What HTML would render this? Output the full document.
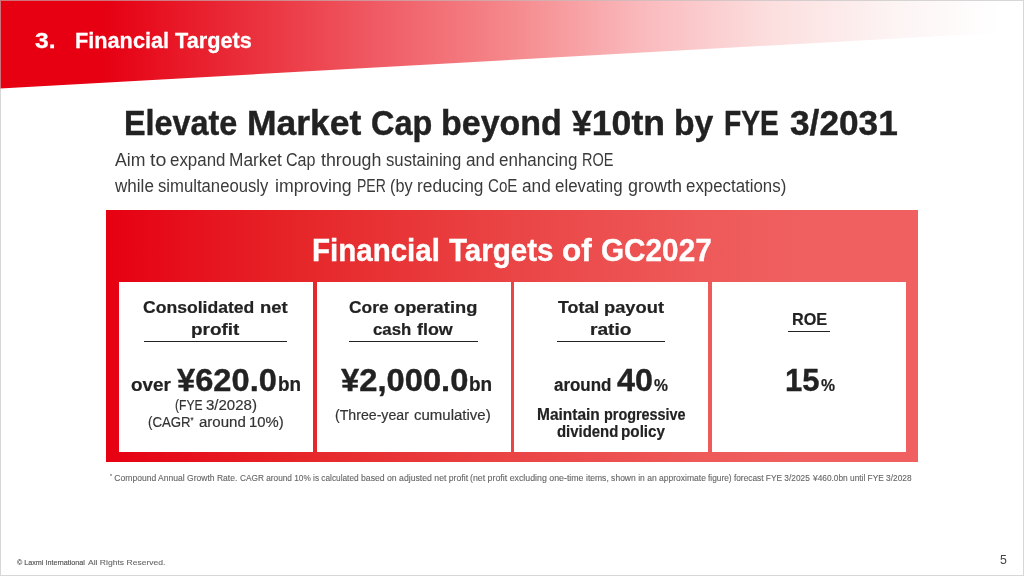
<!DOCTYPE html>
<html lang="en">
<head>
<meta charset="utf-8">
<title>3. Financial Targets</title>
<style>
html,body{margin:0;padding:0;}
body{width:1024px;height:576px;overflow:hidden;background:#fff;position:relative;font-family:"Liberation Sans", sans-serif;}
header,main,section,article,footer,h1,h2,h3,p{margin:0;padding:0;font-size:0;line-height:0;}
.band{position:absolute;left:0;top:0;width:1024px;height:90px;background:linear-gradient(90deg,#e60012 0,#e60012 105px,#ea323e 256px,#f05d66 384px,#f5898c 512px,#fab9bc 640px,#fcdede 768px,#fdf4f4 896px,#ffffff 1000px);clip-path:polygon(0 0,1024px 0,1024px 31.4px,0 88.4px);}
.box{position:absolute;left:106px;top:210px;width:812px;height:252.3px;background:linear-gradient(90deg,#e60012 0,#e62629 193px,#ea4344 393px,#ee5959 593px,#f06060 700px,#f06060 100%);}
.card{position:absolute;top:282.1px;height:169.5px;background:#fff;}
.ul{position:absolute;height:1.4px;background:#222;}
.t{position:absolute;display:block;white-space:pre;transform-origin:0 0;}
.sp{font-size:60%;vertical-align:0.5em;line-height:0}
.frame{position:absolute;left:0;top:0;width:1022px;height:574px;border:1px solid rgba(189,189,189,0.61);}
.f1{font-size:22px;line-height:26px;font-weight:700;color:#fff;-webkit-text-stroke:0.26px #fff;}
.f2{font-size:34.5px;line-height:41px;font-weight:700;color:#222;-webkit-text-stroke:0.41px #222;}
.f3{font-size:17.5px;line-height:21px;font-weight:400;color:#3a3a3a;}
.f4{font-size:31.3px;line-height:38px;font-weight:700;color:#fff;-webkit-text-stroke:0.38px #fff;}
.f5{font-size:17.3px;line-height:21px;font-weight:700;color:#222;-webkit-text-stroke:0.21px #222;}
.f6{font-size:17.6px;line-height:21px;font-weight:700;color:#222;-webkit-text-stroke:0.21px #222;}
.f7{font-size:30.5px;line-height:37px;font-weight:700;color:#222;-webkit-text-stroke:0.37px #222;}
.f8{font-size:19.5px;line-height:23px;font-weight:700;color:#222;-webkit-text-stroke:0.23px #222;}
.f9{font-size:14px;line-height:17px;font-weight:400;color:#333;-webkit-text-stroke:0.18px #333;}
.f10{font-size:16px;line-height:19px;font-weight:700;color:#222;-webkit-text-stroke:0.19px #222;}
.f11{font-size:16.5px;line-height:20px;font-weight:700;color:#222;-webkit-text-stroke:0.2px #222;}
.f12{font-size:9px;line-height:11px;font-weight:400;color:#666;-webkit-text-stroke:0.12px #666;}
.f13{font-size:8px;line-height:10px;font-weight:400;color:#505050;-webkit-text-stroke:0.14px #505050;}
.f14{font-size:8px;line-height:10px;font-weight:400;color:#666;-webkit-text-stroke:0.1px #666;}
.f15{font-size:13px;line-height:16px;font-weight:400;color:#444;}
</style>
</head>
<body>
<div class="band"></div>
<div class="box"></div>
<div class="card" style="left:118.5px;width:194.5px"></div>
<div class="card" style="left:316.5px;width:194px"></div>
<div class="card" style="left:514.4px;width:194px"></div>
<div class="card" style="left:712px;width:194.3px"></div>
<div class="ul" style="left:143.6px;width:143.8px;top:341px"></div>
<div class="ul" style="left:348.8px;width:129px;top:341px"></div>
<div class="ul" style="left:557px;width:108px;top:341px"></div>
<div class="ul" style="left:788.2px;width:42.2px;top:331.1px"></div>
<header>
<h2><span class="t f1" style="left:35.39px;top:28px;transform:scaleX(1.1193)">3. </span><span class="t f1" style="left:74.91px;top:28px;transform:scaleX(0.9867)">Financial Targets</span></h2>
</header>
<main>
<h1><span class="t f2" style="left:123.58px;top:103px;transform:scaleX(0.9371)">Elevate </span><span class="t f2" style="left:246.53px;top:103px;transform:scaleX(1.0288)">Market </span><span class="t f2" style="left:370.71px;top:103px;transform:scaleX(0.9393)">Cap </span><span class="t f2" style="left:440.98px;top:103px;transform:scaleX(0.9851)">beyond </span><span class="t f2" style="left:571.7px;top:103px;transform:scaleX(1.0324)">¥10tn </span><span class="t f2" style="left:673.5px;top:103px;transform:scaleX(0.9774)">by </span><span class="t f2" style="left:724.04px;top:103px;transform:scaleX(0.8160)">FYE </span><span class="t f2" style="left:789.9px;top:103px;transform:scaleX(1.0218)">3/2031</span></h1>
<p><span class="t f3" style="left:114.95px;top:150px;transform:scaleX(1.0083)">Aim </span><span class="t f3" style="left:149.98px;top:150px;transform:scaleX(1.1201)">to </span><span class="t f3" style="left:169.62px;top:150px;transform:scaleX(0.9657)">expand </span><span class="t f3" style="left:228.97px;top:150px;transform:scaleX(0.9897)">Market </span><span class="t f3" style="left:286.33px;top:150px;transform:scaleX(0.9189)">Cap </span><span class="t f3" style="left:320.71px;top:150px;transform:scaleX(1.0170)">through </span><span class="t f3" style="left:385.51px;top:150px;transform:scaleX(0.9540)">sustaining </span><span class="t f3" style="left:465.81px;top:150px;transform:scaleX(0.9854)">and </span><span class="t f3" style="left:498.81px;top:150px;transform:scaleX(0.9702)">enhancing </span><span class="t f3" style="left:582.3px;top:150px;transform:scaleX(0.8285)">ROE</span></p>
<p><span class="t f3" style="left:115.09px;top:176px;transform:scaleX(0.9745)">while </span><span class="t f3" style="left:158.36px;top:176px;transform:scaleX(0.9534)">simultaneously </span><span class="t f3" style="left:275.4px;top:176px;transform:scaleX(1.0108)">improving </span><span class="t f3" style="left:356.59px;top:176px;transform:scaleX(0.7994)">PER </span><span class="t f3" style="left:389.97px;top:176px;transform:scaleX(0.9276)">(by </span><span class="t f3" style="left:417.01px;top:176px;transform:scaleX(0.9893)">reducing </span><span class="t f3" style="left:488.24px;top:176px;transform:scaleX(0.8641)">CoE </span><span class="t f3" style="left:522.11px;top:176px;transform:scaleX(0.9854)">and </span><span class="t f3" style="left:555.12px;top:176px;transform:scaleX(0.9649)">elevating </span><span class="t f3" style="left:627.6px;top:176px;transform:scaleX(1.0264)">growth </span><span class="t f3" style="left:686.12px;top:176px;transform:scaleX(0.9633)">expectations)</span></p>
</main>
<section>
<h2><span class="t f4" style="left:311.81px;top:232px;transform:scaleX(0.9430)">Financial </span><span class="t f4" style="left:448.93px;top:232px;transform:scaleX(0.9430)">Targets </span><span class="t f4" style="left:562.32px;top:232px;transform:scaleX(1.0073)">of </span><span class="t f4" style="left:601.25px;top:232px;transform:scaleX(0.9497)">GC2027</span></h2>
</section>
<article>
<h3><span class="t f5" style="left:142.87px;top:297px;transform:scaleX(1.0168)">Consolidated </span><span class="t f5" style="left:259.77px;top:297px;transform:scaleX(1.0674)">net</span> <span class="t f5" style="left:191.34px;top:319px;transform:scaleX(1.0939)">profit</span></h3>
<p><span class="t f6" style="left:130.96px;top:375px;transform:scaleX(1.0726)">over</span> <span class="t f7" style="left:177.19px;top:362px;transform:scaleX(1.0705)">¥620.0</span><span class="t f8" style="left:277.59px;top:373px;transform:scaleX(0.9672)">bn</span></p>
<p><span class="t f9" style="left:174.56px;top:397px;transform:scaleX(0.8616)">(FYE </span><span class="t f9" style="left:206.24px;top:397px;transform:scaleX(1.0724)">3/2028)</span></p>
<p><span class="t f9" style="left:148.2px;top:414px;transform:scaleX(0.9441)">(CAGR<span class="sp">*</span> </span><span class="t f9" style="left:198.93px;top:414px;transform:scaleX(1.0740)">around </span><span class="t f9" style="left:248.88px;top:414px;transform:scaleX(1.0578)">10%)</span></p>
</article>
<article>
<h3><span class="t f5" style="left:348.98px;top:297px;transform:scaleX(1.0050)">Core </span><span class="t f5" style="left:394.4px;top:297px;transform:scaleX(1.0580)">operating</span> <span class="t f5" style="left:373.24px;top:319px;transform:scaleX(0.9703)">cash </span><span class="t f5" style="left:417.34px;top:319px;transform:scaleX(1.0338)">flow</span></h3>
<p><span class="t f7" style="left:340.79px;top:362px;transform:scaleX(1.0730)">¥2,000.0</span><span class="t f8" style="left:469.18px;top:373px;transform:scaleX(0.9718)">bn</span></p>
<p><span class="t f9" style="left:334.56px;top:407px;transform:scaleX(1.0099)">(Three-year </span><span class="t f9" style="left:414.13px;top:407px;transform:scaleX(1.0704)">cumulative)</span></p>
</article>
<article>
<h3><span class="t f5" style="left:558.47px;top:297px;transform:scaleX(1.0331)">Total </span><span class="t f5" style="left:604.38px;top:297px;transform:scaleX(1.0596)">payout</span> <span class="t f5" style="left:590.03px;top:319px;transform:scaleX(1.1064)">ratio</span></h3>
<p><span class="t f6" style="left:554.14px;top:375px;transform:scaleX(0.9627)">around</span> <span class="t f7" style="left:617.08px;top:362px;transform:scaleX(1.0592)">40</span><span class="t f5" style="left:653.9px;top:375px;transform:scaleX(0.9070)">%</span></p>
<p><span class="t f10" style="left:536.96px;top:405px;transform:scaleX(0.9676)">Maintain </span><span class="t f10" style="left:604.02px;top:405px;transform:scaleX(0.8998)">progressive</span> <span class="t f10" style="left:557.08px;top:422px;transform:scaleX(0.9317)">dividend </span><span class="t f10" style="left:620.76px;top:422px;transform:scaleX(0.9530)">policy</span></p>
</article>
<article>
<h3><span class="t f11" style="left:791.62px;top:309px;transform:scaleX(0.9828)">ROE</span></h3>
<p><span class="t f7" style="left:784.6px;top:362px;transform:scaleX(1.0153)">15</span><span class="t f5" style="left:821.4px;top:375px;transform:scaleX(0.9139)">%</span></p>
</article>
<footer>
<p><span class="t f12" style="left:109.88px;top:473px;transform:scaleX(0.9486)"><span class="sp">*</span> Compound Annual Growth Rate. </span><span class="t f12" style="left:239.84px;top:473px;transform:scaleX(0.9190)">CAGR around 10% is calculated </span><span class="t f12" style="left:360.73px;top:473px;transform:scaleX(0.9638)">based on adjusted net profit </span><span class="t f12" style="left:469.99px;top:473px;transform:scaleX(0.9780)">(net profit excluding one-time </span><span class="t f12" style="left:585.74px;top:473px;transform:scaleX(0.9477)">items, shown in an approximate </span><span class="t f12" style="left:708.44px;top:473px;transform:scaleX(0.9252)">figure) forecast FYE 3/2025 </span><span class="t f12" style="left:812.8px;top:473px;transform:scaleX(0.9249)">¥460.0bn until FYE 3/2028</span></p>
<p><span class="t f13" style="left:16.8px;top:558px;transform:scaleX(0.8971)">© Laxmi International</span> <span class="t f14" style="left:87.54px;top:558px;transform:scaleX(1.0679)">All Rights Reserved.</span></p>
<p><span class="t f15" style="left:999.74px;top:552px;transform:scaleX(0.9489)">5</span></p>
</footer>
<div class="frame"></div>
</body>
</html>
